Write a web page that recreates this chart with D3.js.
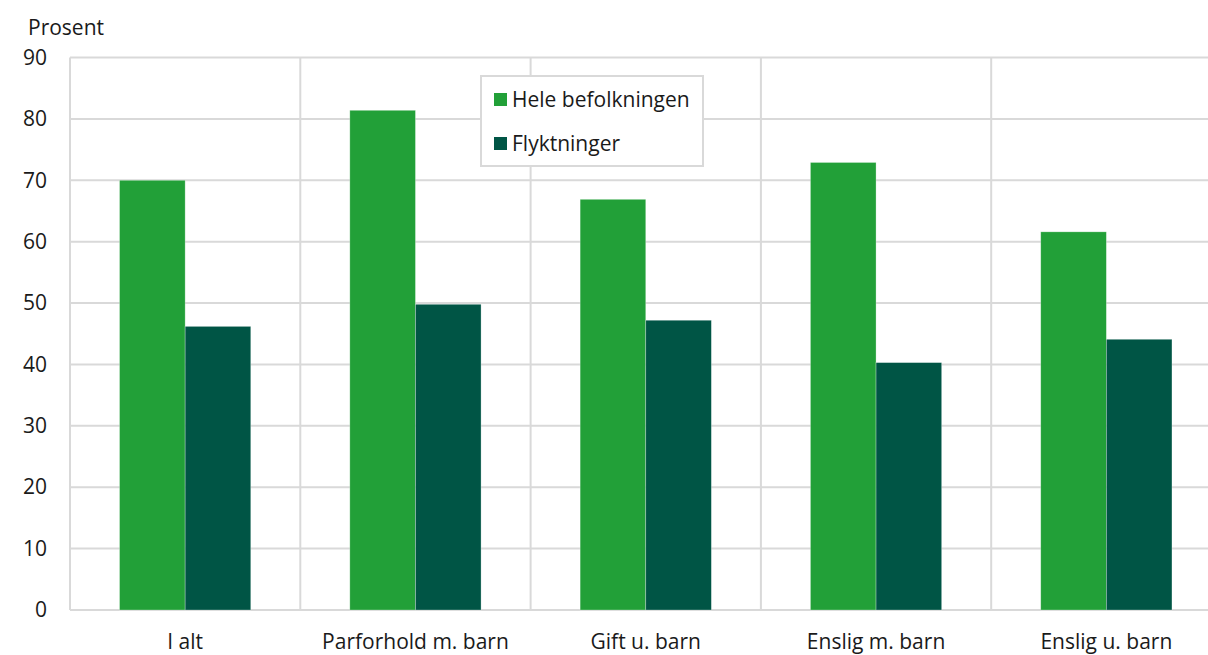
<!DOCTYPE html>
<html>
<head>
<meta charset="utf-8">
<script src="https://cdn.jsdelivr.net/npm/d3@7"></script>
<style>
  body { margin: 0; background: #fff; }
  text { font-family: "Open Sans", sans-serif; fill: #1a1a1a; }
</style>
</head>
<body>
<div id="chart"></div>
<script>
// data
var categories = ['I alt', 'Parforhold m. barn', 'Gift u. barn', 'Enslig m. barn', 'Enslig u. barn'];
var seriesNames = ['Hele befolkningen', 'Flyktninger'];
var heleBefolkningen = [70.0, 81.4, 66.9, 72.9, 61.6];
var flyktninger = [46.2, 49.8, 47.2, 40.3, 44.1];
var yTicks = [0, 10, 20, 30, 40, 50, 60, 70, 80, 90];
var colors = ['#22a038', '#005545'];

var W = 1208, H = 655;
var margin = { top: 57.5, left: 70, bottom: 45, right: -13.5 };
var width = W - margin.left - margin.right,
    height = H - margin.top - margin.bottom;
var fs = '21px';

var svg = d3.select('#chart').append('svg')
  .attr('width', W).attr('height', H);

var g = svg.append('g')
  .attr('transform', 'translate(' + margin.left + ',' + margin.top + ')');

var x = d3.scaleBand().domain(categories).range([0, width]).padding(0);
var xs = d3.scaleBand().domain(seriesNames).range([0, x.bandwidth()])
  .paddingInner(0).paddingOuter(0.755);
var y = d3.scaleLinear().domain([0, 90]).range([height, 0]);

// horizontal grid
g.append('g').selectAll('line').data(yTicks).enter().append('line')
  .attr('x1', 0).attr('x2', width)
  .attr('y1', function (d) { return y(d); })
  .attr('y2', function (d) { return y(d); })
  .attr('stroke', '#d9d9d9').attr('stroke-width', 2);

// vertical separators between categories
g.append('g').selectAll('line').data(categories).enter().append('line')
  .attr('x1', function (d) { return x(d); })
  .attr('x2', function (d) { return x(d); })
  .attr('y1', 0).attr('y2', height)
  .attr('stroke', '#d9d9d9').attr('stroke-width', 2);

// y axis labels
var yAxis = d3.axisLeft(y).tickValues(yTicks).tickSize(0).tickPadding(23);
var yG = g.append('g').call(yAxis);
yG.select('.domain').remove();
yG.selectAll('text').style('font-size', fs).attr('font-family', null);

// x axis labels
var xAxis = d3.axisBottom(x).tickSize(0).tickPadding(24);
var xG = g.append('g').attr('transform', 'translate(0,' + height + ')').call(xAxis);
xG.select('.domain').remove();
xG.selectAll('text').style('font-size', fs).attr('font-family', null);

// bars
var rows = categories.map(function (c, i) {
  return { cat: c, vals: [heleBefolkningen[i], flyktninger[i]] };
});
var groups = g.append('g').selectAll('g').data(rows).enter().append('g')
  .attr('transform', function (d) { return 'translate(' + x(d.cat) + ',0)'; });
groups.selectAll('rect').data(function (d) {
  return d.vals.map(function (v, j) { return { s: seriesNames[j], v: v, j: j }; });
}).enter().append('rect')
  .attr('x', function (d) { return xs(d.s); })
  .attr('width', xs.bandwidth())
  .attr('y', function (d) { return y(d.v); })
  .attr('height', function (d) { return height - y(d.v); })
  .attr('fill', function (d) { return colors[d.j]; })
  .attr('stroke', 'rgba(255,255,255,0.4)').attr('stroke-width', 0.7);

// y axis title
svg.append('text').attr('x', 28).attr('y', 35).style('font-size', fs).text('Prosent');

// legend
var legend = svg.append('g').attr('transform', 'translate(481,76)');
legend.append('rect').attr('width', 222).attr('height', 90)
  .attr('fill', '#fff').attr('stroke', '#d9d9d9').attr('stroke-width', 2);
var items = legend.selectAll('g.item').data(seriesNames).enter().append('g')
  .attr('transform', function (d, i) { return 'translate(13,' + (17 + i * 44) + ')'; });
items.append('rect').attr('width', 13).attr('height', 13)
  .attr('fill', function (d, i) { return colors[i]; });
items.append('text').attr('x', 18).attr('y', 14).style('font-size', fs)
  .text(function (d) { return d; });
</script>
</body>
</html>
